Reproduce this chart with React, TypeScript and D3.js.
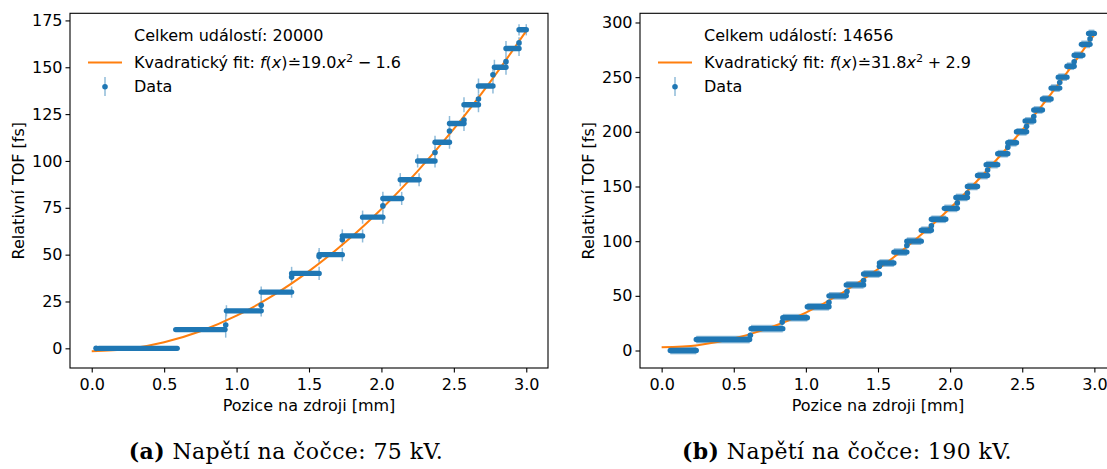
import React, { useEffect, useRef } from 'react';
import * as d3 from 'd3';

// tick values
const xTicks = [0, 0.5, 1.0, 1.5, 2.0, 2.5, 3.0];
const leftYTicks = [0, 25, 50, 75, 100, 125, 150, 175];
const rightYTicks = [0, 50, 100, 150, 200, 250, 300];

// (a) 75 kV - plateaus of the measured TOF
const leftLevels = [0, 10, 20, 30, 40, 50, 60, 70, 80, 90, 100, 110, 120, 130, 140, 150, 160, 170];
const leftFrom = [0.05, 0.58, 0.93, 1.17, 1.38, 1.57, 1.73, 1.87, 2.01, 2.13, 2.25, 2.37, 2.47, 2.57, 2.67, 2.78, 2.86, 2.95];
const leftTo = [0.59, 0.92, 1.17, 1.38, 1.57, 1.73, 1.87, 2.01, 2.14, 2.26, 2.37, 2.47, 2.57, 2.67, 2.77, 2.86, 2.95, 3.0];
const leftEdgeErr = [0, 0, 3, 3, 3.5, 3.5, 3.5, 3.5, 3.5, 3.5, 3.5, 3.5, 4, 4, 4, 4, 4, 3];
const leftBandErr = [0.8, 0.8, 0.8, 0.8, 0.8, 0.8, 0.8, 0.8, 0.8, 0.8, 0.8, 0.8, 0.8, 0.8, 0.8, 0.8, 0.8, 0.8];
// (a) isolated points between plateaus
const leftPtX = [0.03, 0.925, 1.17, 1.38, 1.57, 1.73, 2.01, 2.37, 2.47, 2.57, 2.67, 2.77, 2.86, 2.95];
const leftPtY = [0, 12.4, 23, 38, 49, 58, 76, 104.5, 116, 121.8, 133, 146, 153, 163];
const leftPtErr = [0.5, 6.7, 4.5, 3.5, 3.5, 3.5, 3, 3, 3, 3, 3, 3, 3, 3];
// (a) fit curve
const leftFitX = [0, 0.25, 0.5, 0.75, 1.0, 1.25, 1.5, 1.75, 2.0, 2.25, 2.5, 2.75, 3.0];
const leftFitY = [-1.6, -0.4, 3.2, 9.1, 17.4, 28.1, 41.2, 56.6, 74.4, 94.6, 117.1, 142.1, 169.4];

// (b) 190 kV
const rightLevels = [0, 10, 20, 30, 40, 50, 60, 70, 80, 90, 100, 110, 120, 130, 140, 150, 160, 170, 180, 190, 200, 210, 220, 230, 240, 250, 260, 270, 280, 290];
const rightFrom = [0.06, 0.24, 0.62, 0.84, 1.01, 1.16, 1.28, 1.40, 1.51, 1.61, 1.70, 1.80, 1.87, 1.96, 2.04, 2.12, 2.19, 2.25, 2.33, 2.40, 2.46, 2.52, 2.58, 2.64, 2.70, 2.75, 2.81, 2.86, 2.91, 2.96];
const rightTo = [0.24, 0.61, 0.84, 1.01, 1.16, 1.28, 1.40, 1.51, 1.61, 1.70, 1.80, 1.87, 1.97, 2.05, 2.12, 2.19, 2.26, 2.33, 2.40, 2.46, 2.53, 2.58, 2.64, 2.70, 2.76, 2.81, 2.86, 2.92, 2.97, 3.0];
const rightEdgeErr = rightLevels.map(() => 0);
const rightBandErr = rightLevels.map(() => 3.5);
const rightPtX = [0.615, 0.836, 1.16, 1.285, 1.40, 1.51, 1.70, 1.87, 2.05, 2.12, 2.26, 2.40, 2.53, 2.58, 2.76, 2.86, 2.97];
const rightPtY = [14, 26, 44, 54, 64, 77, 96, 114, 135, 144, 165, 186, 205, 214, 245, 264, 285];
const rightPtErr = [2.5, 2.5, 2.5, 2.5, 2.5, 2.5, 2.5, 2.5, 2.5, 2.5, 2.5, 2.5, 2.5, 2.5, 2.5, 2.5, 2.5];
const rightFitX = [0, 0.25, 0.5, 0.75, 1.0, 1.25, 1.5, 1.75, 2.0, 2.25, 2.5, 2.75, 3.0];
const rightFitY = [2.9, 4.9, 10.9, 20.8, 34.7, 52.6, 74.5, 100.3, 130.1, 163.9, 201.6, 243.4, 289.1];

const BLUE = '#1f77b4';
const LIGHT = '#8fbbd9';
const ORANGE = '#ff7f0e';
const FONT = 'DejaVu Sans';
const FS = 16;

const panels = [
  {
    left: 70, right: 548, top: 13.3, bottom: 368, yDomain: [-10.5, 178.8], yTicks: leftYTicks,
    levels: leftLevels, from: leftFrom, to: leftTo, edgeErr: leftEdgeErr, bandErr: leftBandErr,
    ptX: leftPtX, ptY: leftPtY, ptErr: leftPtErr, fitX: leftFitX, fitY: leftFitY,
    count: '20000', coef: '19.0', sign: '\u2212', rest: '1.6',
    tag: '(a)', caption: ' Napětí na čočce: 75 kV.', capX: 286,
  },
  {
    left: 640, right: 1116, top: 13.3, bottom: 368, yDomain: [-16.0, 308.4], yTicks: rightYTicks,
    levels: rightLevels, from: rightFrom, to: rightTo, edgeErr: rightEdgeErr, bandErr: rightBandErr,
    ptX: rightPtX, ptY: rightPtY, ptErr: rightPtErr, fitX: rightFitX, fitY: rightFitY,
    count: '14656', coef: '31.8', sign: '+', rest: '2.9',
    tag: '(b)', caption: ' Napětí na čočce: 190 kV.', capX: 847,
  },
];

export default function App() {
  const ref = useRef<SVGSVGElement>(null);

  useEffect(() => {
    const svg = d3.select(ref.current);
    svg.selectAll('*').remove();

    panels.forEach((p) => {
      const g = svg.append('g');
      const x = d3.scaleLinear().domain([-0.15, 3.15]).range([p.left, p.right]);
      const y = d3.scaleLinear().domain(p.yDomain).range([p.bottom, p.top]);

      // plateau error band
      g.selectAll('.band')
        .data(p.levels)
        .enter()
        .append('rect')
        .attr('x', (d, i) => x(p.from[i]))
        .attr('width', (d, i) => x(p.to[i]) - x(p.from[i]))
        .attr('y', (d, i) => y(d + p.bandErr[i]))
        .attr('height', (d, i) => y(d - p.bandErr[i]) - y(d + p.bandErr[i]))
        .attr('fill', LIGHT);

      // error bars at plateau ends
      p.levels.forEach((d, i) => {
        if (!p.edgeErr[i]) return;
        [p.from[i], p.to[i]].forEach((xv) => {
          g.append('line')
            .attr('x1', x(xv)).attr('x2', x(xv))
            .attr('y1', y(d - p.edgeErr[i])).attr('y2', y(d + p.edgeErr[i]))
            .attr('stroke', LIGHT).attr('stroke-width', 1.5);
        });
      });

      // isolated point error bars
      g.selectAll('.perr')
        .data(p.ptX)
        .enter()
        .append('line')
        .attr('x1', (d) => x(d)).attr('x2', (d) => x(d))
        .attr('y1', (d, i) => y(p.ptY[i] - p.ptErr[i]))
        .attr('y2', (d, i) => y(p.ptY[i] + p.ptErr[i]))
        .attr('stroke', LIGHT).attr('stroke-width', 1.5);

      // fit curve
      const line = d3.line<number>()
        .x((d) => x(d))
        .y((d, i) => y(p.fitY[i]))
        .curve(d3.curveCatmullRom);
      g.append('path')
        .datum(p.fitX)
        .attr('d', line)
        .attr('fill', 'none')
        .attr('stroke', ORANGE)
        .attr('stroke-width', 2);

      // plateaus: dense run of markers
      g.selectAll('.plat')
        .data(p.levels)
        .enter()
        .append('line')
        .attr('x1', (d, i) => x(p.from[i]))
        .attr('x2', (d, i) => x(p.to[i]))
        .attr('y1', (d) => y(d))
        .attr('y2', (d) => y(d))
        .attr('stroke', BLUE)
        .attr('stroke-width', 5.4)
        .attr('stroke-linecap', 'round');

      g.selectAll('.pt')
        .data(p.ptX)
        .enter()
        .append('circle')
        .attr('cx', (d) => x(d))
        .attr('cy', (d, i) => y(p.ptY[i]))
        .attr('r', 2.8)
        .attr('fill', BLUE);

      // frame
      g.append('rect')
        .attr('x', p.left).attr('y', p.top)
        .attr('width', p.right - p.left).attr('height', p.bottom - p.top)
        .attr('fill', 'none').attr('stroke', 'black').attr('stroke-width', 1.1);

      // axes
      const xa = g.append('g')
        .attr('transform', `translate(0,${p.bottom})`)
        .call(d3.axisBottom(x).tickValues(xTicks).tickFormat(d3.format('.1f')).tickSize(4.5).tickPadding(6.5));
      const ya = g.append('g')
        .attr('transform', `translate(${p.left},0)`)
        .call(d3.axisLeft(y).tickValues(p.yTicks).tickFormat(d3.format('d')).tickSize(4.5).tickPadding(3));
      [xa, ya].forEach((a) => {
        a.attr('font-family', FONT).attr('font-size', FS);
        a.select('.domain').remove();
        a.selectAll('line').attr('stroke-width', 1.1);
        a.selectAll('text').attr('fill', 'black');
      });

      g.append('text')
        .attr('x', (p.left + p.right) / 2)
        .attr('y', 411)
        .attr('text-anchor', 'middle')
        .attr('font-family', FONT).attr('font-size', FS)
        .text('Pozice na zdroji [mm]');
      g.append('text')
        .attr('transform', `translate(${p.left - 46.5},${(p.top + p.bottom) / 2}) rotate(-90)`)
        .attr('text-anchor', 'middle')
        .attr('font-family', FONT).attr('font-size', FS)
        .text('Relativní TOF [fs]');

      // legend
      const lx = p.left + 18;
      const tx = p.left + 64;
      const lg = g.append('g').attr('font-family', FONT).attr('font-size', FS);
      lg.append('text').attr('x', tx).attr('y', 41).text(`Celkem událostí: ${p.count}`);
      lg.append('line').attr('x1', lx).attr('x2', lx + 34).attr('y1', 62.5).attr('y2', 62.5)
        .attr('stroke', ORANGE).attr('stroke-width', 2);
      const ft = lg.append('text').attr('x', tx).attr('y', 68);
      ft.append('tspan').text('Kvadratický fit: ');
      ft.append('tspan').attr('font-style', 'italic').text('f');
      ft.append('tspan').text('(');
      ft.append('tspan').attr('font-style', 'italic').text('x');
      ft.append('tspan').text(')\u2250' + p.coef);
      ft.append('tspan').attr('font-style', 'italic').text('x');
      ft.append('tspan').attr('font-size', 11.2).attr('dy', -6.5).text('2');
      ft.append('tspan').attr('dy', 6.5).attr('dx', 4.5).text(p.sign);
      ft.append('tspan').attr('dx', 4.5).text(p.rest);
      lg.append('line').attr('x1', lx + 17).attr('x2', lx + 17).attr('y1', 77).attr('y2', 96)
        .attr('stroke', LIGHT).attr('stroke-width', 1.5);
      lg.append('circle').attr('cx', lx + 17).attr('cy', 86.7).attr('r', 2.8).attr('fill', BLUE);
      lg.append('text').attr('x', tx).attr('y', 92.3).text('Data');

      // caption
      const cap = g.append('text')
        .attr('x', p.capX).attr('y', 459)
        .attr('text-anchor', 'middle')
        .attr('font-family', 'DejaVu Serif').attr('font-size', 22)
        .attr('letter-spacing', 0.4);
      cap.append('tspan').attr('font-weight', 'bold').text(p.tag);
      cap.append('tspan').text(p.caption);
    });
  }, []);

  return (
    <svg
      ref={ref}
      width={1107}
      height={469}
      style={{ position: 'absolute', left: 0, top: 0, background: 'white' }}
    />
  );
}
